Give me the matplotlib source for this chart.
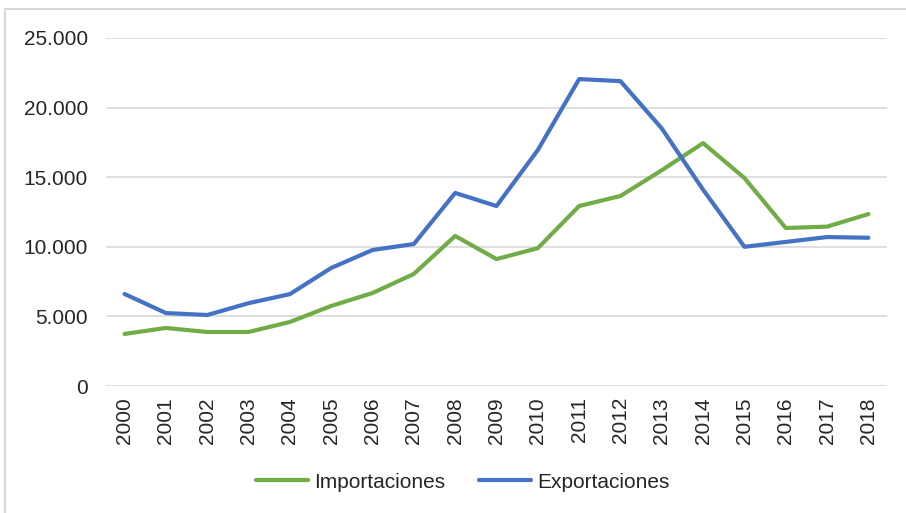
import matplotlib.pyplot as plt
from matplotlib.patches import Rectangle
from matplotlib.ticker import FuncFormatter

plt.rcParams['font.family'] = ['Liberation Sans', 'DejaVu Sans']

years = list(range(2000, 2019))
importaciones = [3740, 4170, 3880, 3880, 4600, 5750, 6680, 8050, 10780, 9120,
                 9900, 12930, 13650, 15500, 17450, 14940, 11350, 11450, 12350]
exportaciones = [6610, 5240, 5100, 5950, 6600, 8480, 9770, 10200, 13870, 12930,
                 16950, 22050, 21900, 18500, 14100, 10000, 10350, 10700, 10650]

fig = plt.figure(figsize=(9.06, 5.13), dpi=100)
# chart frame (cut off on right and bottom like the source image)
fig.patches.append(Rectangle((5 / 906, -0.05), 1.1, 1 - 9 / 513 + 0.05,
                             transform=fig.transFigure, fill=False,
                             edgecolor='#d9d9d9', linewidth=1.5))

ax = fig.add_axes([106 / 906, 1 - 386 / 513, (887 - 106) / 906, (386 - 38) / 513])
ax.plot(years, importaciones, color='#70ad47', lw=3, label='Importaciones',
        solid_joinstyle='round', solid_capstyle='round')
ax.plot(years, exportaciones, color='#4472c4', lw=3, label='Exportaciones',
        solid_joinstyle='round', solid_capstyle='round')

ax.set_ylim(0, 25000)
ax.set_xlim(1999.55, 2018.45)
ax.set_yticks(range(0, 25001, 5000))
ax.yaxis.set_major_formatter(FuncFormatter(lambda v, p: f"{int(v):,}".replace(",", ".")))
ax.set_xticks(years)
ax.set_xticklabels([str(y) for y in years], rotation=90)
ax.tick_params(length=0, labelsize=15, colors='#262626')
ax.tick_params(axis='x', pad=8)
ax.tick_params(axis='y', pad=13)
ax.grid(axis='y', color='#d9d9d9', lw=1.2)
ax.set_axisbelow(True)
for s in ax.spines.values():
    s.set_visible(False)

leg = fig.legend(loc='center', bbox_to_anchor=(463 / 906, 1 - 482 / 513), ncol=2,
                 frameon=False, fontsize=15, handlelength=2.5, columnspacing=1.6,
                 handletextpad=0.3)
for t in leg.get_texts():
    t.set_color('#262626')

fig.savefig('out.png', dpi=100)
